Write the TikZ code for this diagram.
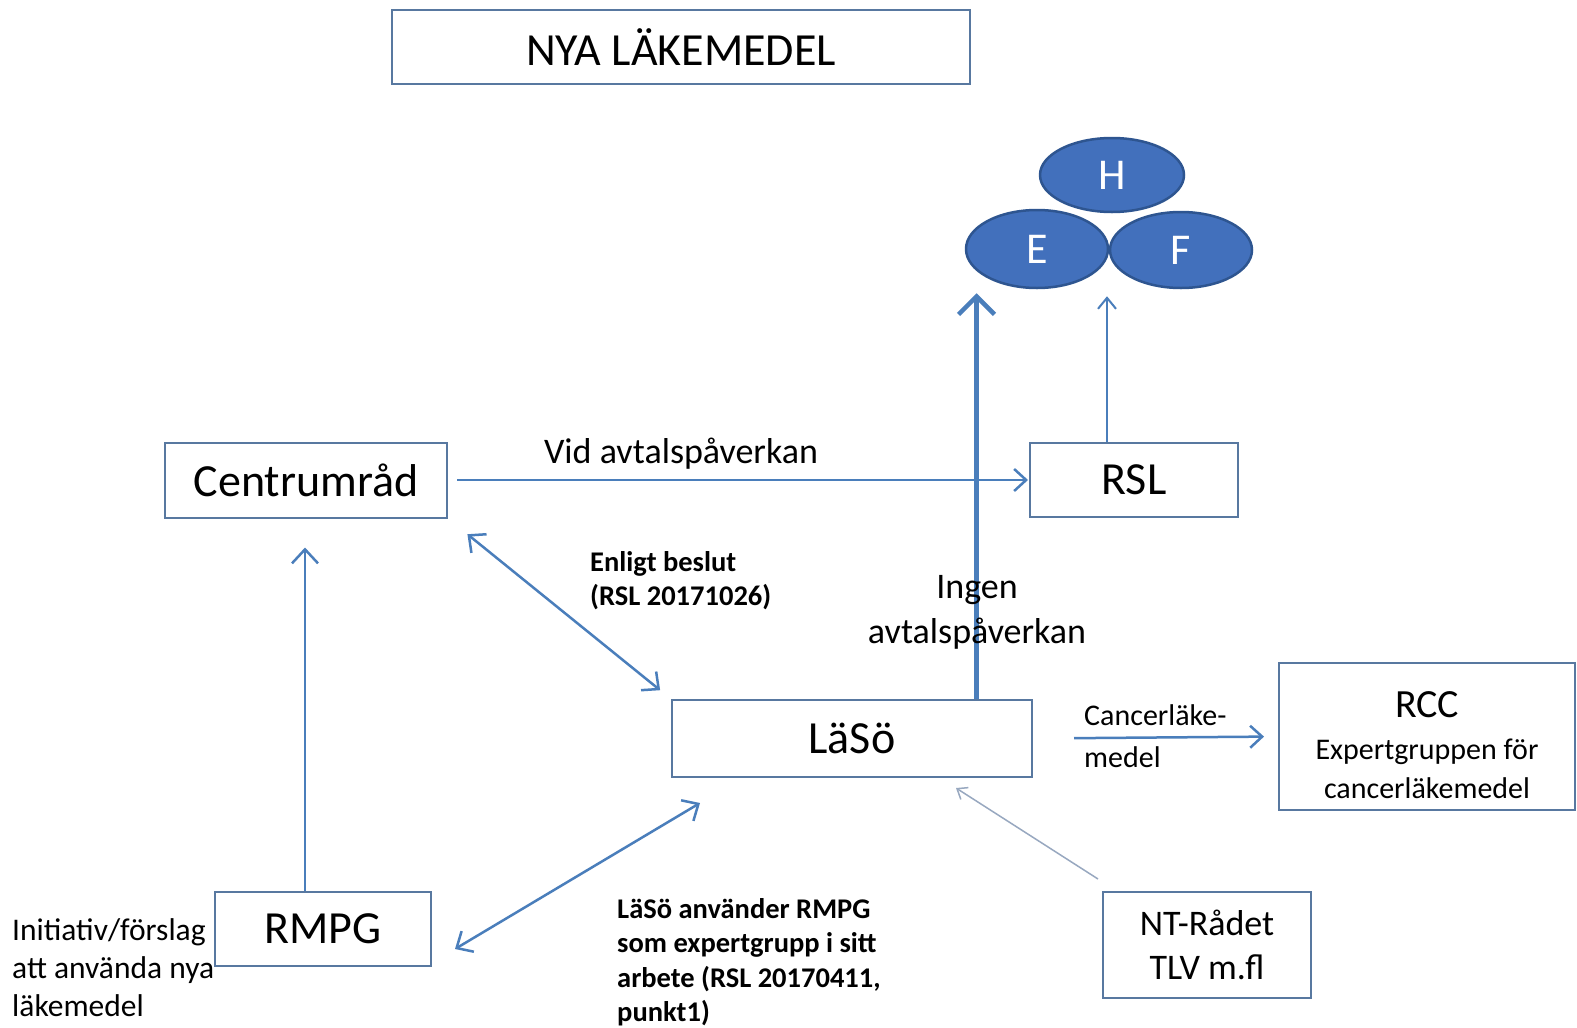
\documentclass[tikz,border=0pt]{standalone}
\usepackage{fontspec}
\setmainfont{Carlito}
\usetikzlibrary{arrows.meta,shapes.geometric,calc}
\definecolor{arrowblue}{HTML}{4A7EBB}
\definecolor{boxline}{HTML}{5878A0}
\definecolor{ellfill}{HTML}{4270BC}
\definecolor{ellline}{HTML}{2E5590}
\definecolor{thinline}{HTML}{98A8C0}
\begin{document}
\begin{tikzpicture}[x=1pt,y=-1pt,
 box/.style={draw=boxline,line width=2pt,fill=white,inner sep=0pt,align=center,font=\fontsize{46}{55}\selectfont},
 ell/.style={ellipse,draw=ellline,line width=2.5pt,fill=ellfill,text=white,inner sep=0pt,font=\fontsize{44}{48}\selectfont},
 arr/.style={draw=arrowblue,line width=2.5pt,-{Straight Barb[length=12pt,width=22pt]}},
 dbl/.style={draw=arrowblue,line width=2.5pt,{Straight Barb[length=13pt,width=24pt]}-{Straight Barb[length=13pt,width=24pt]}},
 lbl/.style={inner sep=0pt,align=left},
]
\useasboundingbox[fill=white] (0,0) rectangle (1577,1028);

% boxes
\node[box,minimum width=578pt,minimum height=74pt] (title) at (681,47) {NYA LÄKEMEDEL};
\node[box,minimum width=282pt,minimum height=75pt] (cent) at (306,480) {Centrumråd};
\node[box,minimum width=208pt,minimum height=74pt] (rsl) at (1134,480) {RSL};
\node[box,minimum width=360pt,minimum height=77pt] (laso) at (852,738.5) {LäSö};
\node[box,minimum width=296pt,minimum height=147pt,font=\fontsize{30}{39}\selectfont] (rcc) at (1427,736.5) {{\fontsize{40}{42.5}\selectfont\rule{0pt}{44pt}RCC}\\[3pt]Expertgruppen för\\cancerläkemedel};
\node[box,minimum width=216pt,minimum height=74pt] (rmpg) at (323,929) {RMPG};
\node[box,minimum width=208pt,minimum height=106pt,font=\fontsize{36}{44}\selectfont] (nt) at (1207,945) {NT-Rådet\\TLV m.fl};

% ellipses
\node[ell,minimum width=144pt,minimum height=74pt] (H) at (1112,175) {H};
\node[ell,minimum width=142pt,minimum height=78pt] (E) at (1037,249) {E};
\node[ell,minimum width=142pt,minimum height=76pt] (F) at (1181,250) {F};

% connectors
\draw[arr,shorten <=9pt,shorten >=1pt] (cent.east) -- (rsl.west);
\draw[dbl,shorten <=25pt,shorten >=14pt] (cent.south east) -- (laso.north west);
\draw[arr,-{Straight Barb[length=14pt,width=26pt]},shorten >=29pt] ([xshift=-18pt]rmpg.north) -- ([xshift=-18pt]rmpg.north |- cent.south);
\draw[dbl] ([xshift=23pt,yshift=-20pt]rmpg.east) -- ([xshift=29pt,yshift=-25pt]laso.south west);
\draw[draw=arrowblue,line width=4.5pt,-{Straight Barb[length=18pt,width=36pt]},shorten >=4pt] ([xshift=124.5pt]laso.north) -- ([xshift=124.5pt]laso.north |- E.south);
\draw[draw=arrowblue,line width=2pt,-{Straight Barb[length=11pt,width=18pt]},shorten >=7pt] ([xshift=-27pt]rsl.north) -- ([xshift=-27pt]rsl.north |- F.south);
\draw[arr,shorten <=41pt,shorten >=14pt] (laso.east) -- (rcc.west);
\draw[draw=thinline,line width=1.5pt,-{Straight Barb[length=9pt,width=14pt]}] ([xshift=-4pt,yshift=12pt]nt.north west) -- ([xshift=104pt,yshift=-10pt]laso.south);

% labels
\node[lbl,font=\fontsize{36}{42}\selectfont] (l1) at (681,454) {Vid avtalspåverkan};
\node[lbl,anchor=north west,font=\bfseries\fontsize{28.5}{34.5}\selectfont] (l2) at (590,551) {Enligt beslut\\(RSL 20171026)};
\node[lbl,anchor=north,align=center,font=\fontsize{36}{45}\selectfont] (l3) at (977,575) {Ingen\\avtalspåverkan};
\node[lbl,anchor=north west,font=\fontsize{30}{42}\selectfont] (l4) at (1084,704) {Cancerläke-\\medel};
\node[lbl,anchor=north west,font=\fontsize{31.5}{38}\selectfont] (l5) at (12,918) {Initiativ/förslag\\att använda nya\\läkemedel};
\node[lbl,anchor=north west,font=\bfseries\fontsize{28.5}{34.5}\selectfont] (l6) at (617,898) {LäSö använder RMPG\\som expertgrupp i sitt\\arbete (RSL 20170411,\\punkt1)};
\end{tikzpicture}
\end{document}
